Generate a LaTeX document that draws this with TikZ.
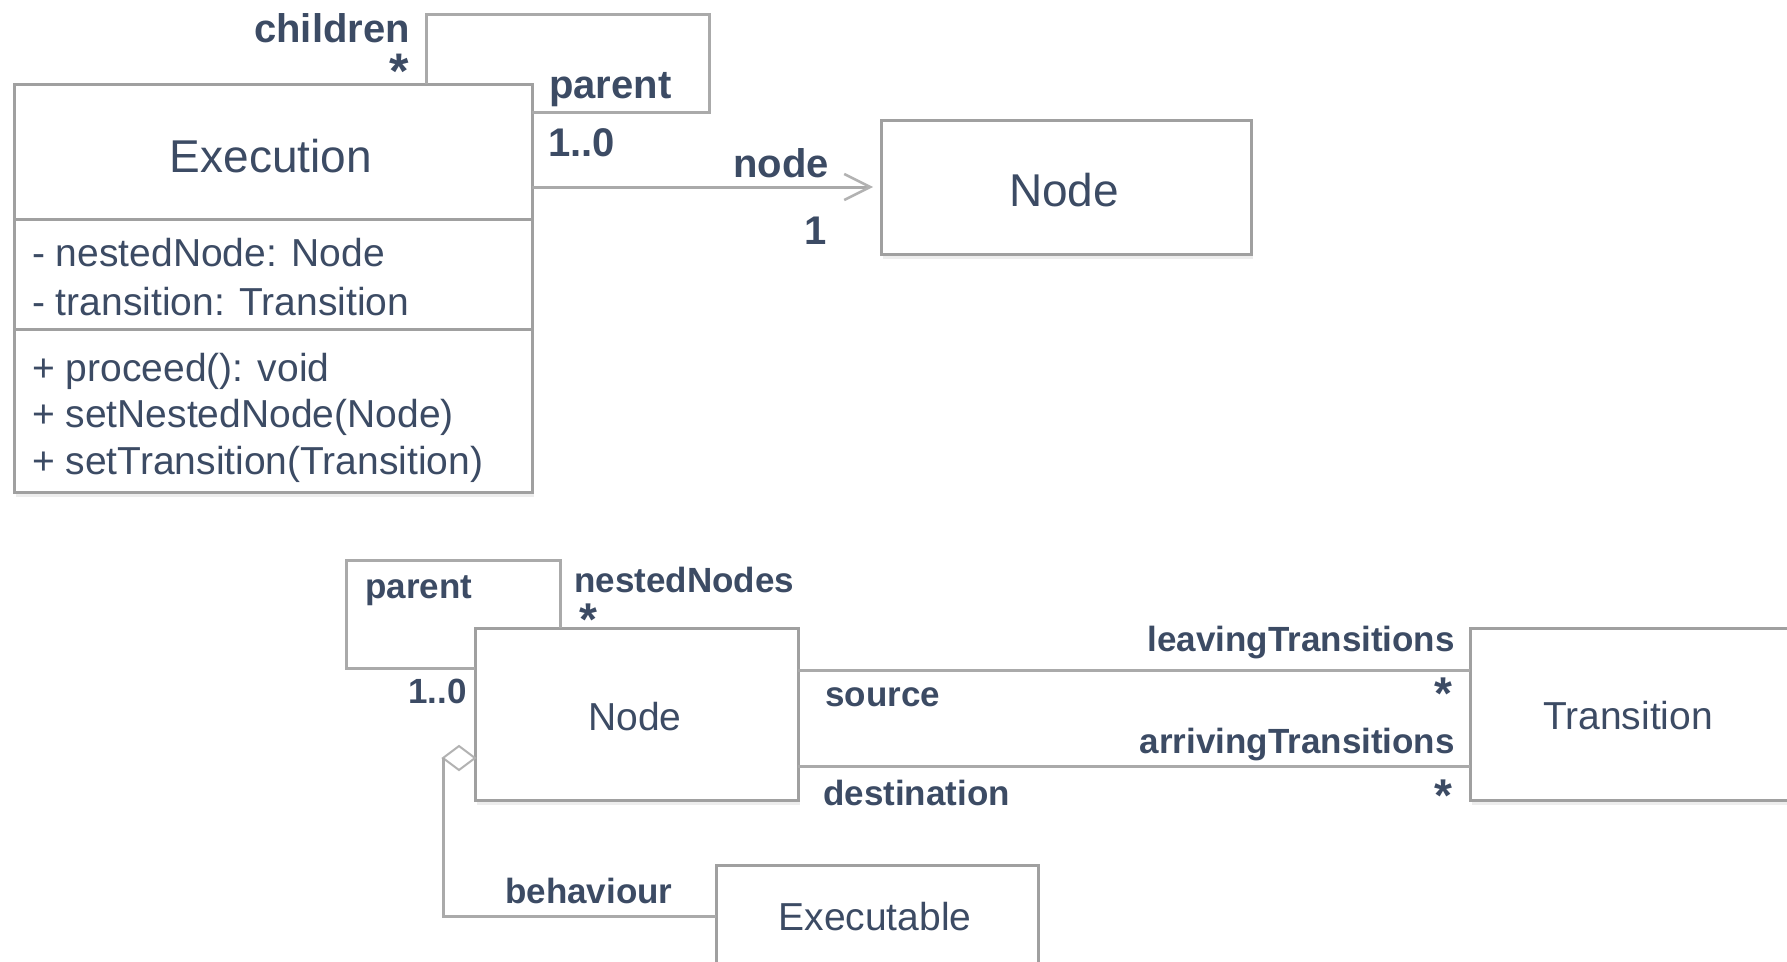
\documentclass[tikz,border=0pt]{standalone}
\usepackage{fontspec}
\setmainfont{Liberation Sans}
\usetikzlibrary{arrows.meta,shapes.geometric,shadows}
\definecolor{ink}{RGB}{60,75,100}
\definecolor{edge}{RGB}{160,160,160}
\definecolor{wire}{RGB}{170,170,170}
\definecolor{tip}{RGB}{178,178,178}
\newcommand\pxfont[1]{\fontsize{#1}{#1}\selectfont}

\begin{document}
\begin{tikzpicture}[x=1pt,y=-1pt,
  classbox/.style={draw=edge, line width=3pt, fill=white, anchor=north west,
    inner sep=0pt, outer sep=0pt,
    drop shadow={shadow xshift=2pt, shadow yshift=-5pt, fill=black, opacity=0.07}},
  sepline/.style={draw=edge, line width=3pt},
  conn/.style={draw=wire, line width=3pt},
  ttl/.style={font=\pxfont{#1}, text=ink, inner sep=0pt},
  member/.style={font=\pxfont{39}, text=ink, inner sep=0pt, anchor=base west},
  lbl/.style={font=\bfseries\pxfont{#1}, text=ink, inner sep=0pt},
  mult/.style={font=\bfseries\pxfont{#1}, text=ink, inner sep=0pt, anchor=base}
]
\useasboundingbox (0,0) rectangle (1787,961);
\clip (0,0) rectangle (1787,961);

% ---- classes ----
\node[classbox, minimum width=518, minimum height=408] (exec) at (14,84) {};
\draw[sepline] ([yshift=-135pt]exec.north west) -- ([yshift=-135pt]exec.north east);
\draw[sepline] ([yshift=-245pt]exec.north west) -- ([yshift=-245pt]exec.north east);

\node[classbox, minimum width=370, minimum height=134] (tnode) at (881,120) {};
\node[classbox, minimum width=323, minimum height=172] (bnode) at (475,628) {};
\node[classbox, minimum width=400, minimum height=172] (trans) at (1470,628) {};
\node[classbox, minimum width=322, minimum height=102] (exe) at (716,865) {};

% ---- class texts ----
\node[ttl=46, anchor=base] (execT) at (271,172) {Execution};
\node[member] (attrA) at (32,266) {- nestedNode: Node};
\node[member] (attrB) at (32,315) {- transition: Transition};
\node[member] (opA) at (32,381) {+ proceed(): void};
\node[member] (opB) at (32,427) {+ setNestedNode(Node)};
\node[member] (opC) at (32,474) {+ setTransition(Transition)};

\node[ttl=46, anchor=base] (tnodeT) at (1064,206) {Node};
\node[ttl=39, anchor=base] (bnodeT) at (635,730) {Node};
\node[ttl=39, anchor=base] (transT) at (1628,729) {Transition};
\node[ttl=39, anchor=base] (exeT) at (875,930) {Executable};

% ---- Execution: parent/children self association ----
\coordinate (eA) at (426,14);
\coordinate (eB) at (709,112);
\draw[conn] (eA |- exec.north) -- (eA) -| (eB) -- (eB -| exec.east);

% ---- Execution -> Node ----
\draw[conn, shorten >=8pt, -{Straight Barb[length=26pt,width=26pt,line width=2.5pt,color=tip]}]
  (exec.east |- tnode.west) -- (tnode.west);

% ---- Node: parent/nestedNodes self association ----
\coordinate (nA) at (560,560);
\coordinate (nB) at (346,668);
\draw[conn] (nA |- bnode.north) -- (nA) -| (nB) -- (nB -| bnode.west);

% ---- Node -- Transition ----
\draw[conn] ([yshift=44pt]bnode.east) -- ([yshift=44pt]trans.west);
\draw[conn] ([yshift=-52pt]bnode.east) -- ([yshift=-52pt]trans.west);

% ---- Node <>-- Executable ----
\node[diamond, draw=tip, fill=white, line width=2pt, minimum width=32pt,
  minimum height=24pt, inner sep=0pt, outer sep=0pt, anchor=east] (dia)
  at ([yshift=-44pt]bnode.west) {};
\draw[conn] (dia.west) |- (exe.west);

% ---- role names and multiplicities ----
\node[lbl=40, anchor=base east] (lChildren) at (410,42) {children};
\node[mult=50] (mChildren) at (399,88) {*};
\node[lbl=40, anchor=base west] (lParentE) at (549,98) {parent};
\node[lbl=40, anchor=base west] (mParentE) at (548,156) {1..0};
\node[lbl=40, anchor=base east] (lNode) at (829,177) {node};
\node[lbl=40, anchor=base] (mNode) at (816,244) {1};

\node[lbl=35, anchor=base west] (lParentN) at (365,598) {parent};
\node[lbl=35, anchor=base west] (lNested) at (574,592) {nestedNodes};
\node[mult=46] (mNested) at (588,635) {*};
\node[lbl=35, anchor=base east] (mParentN) at (467,703) {1..0};

\node[lbl=35, anchor=base east] (lLeaving) at (1455,651) {leavingTransitions};
\node[mult=46] (mLeaving) at (1443,709) {*};
\node[lbl=35, anchor=base west] (lSource) at (825,706) {source};
\node[lbl=35, anchor=base east] (lArriving) at (1455,753) {arrivingTransitions};
\node[mult=46] (mArriving) at (1443,811) {*};
\node[lbl=35, anchor=base west] (lDest) at (823,805) {destination};
\node[lbl=35, anchor=base west] (lBehav) at (505,903) {behaviour};
\end{tikzpicture}
\end{document}
